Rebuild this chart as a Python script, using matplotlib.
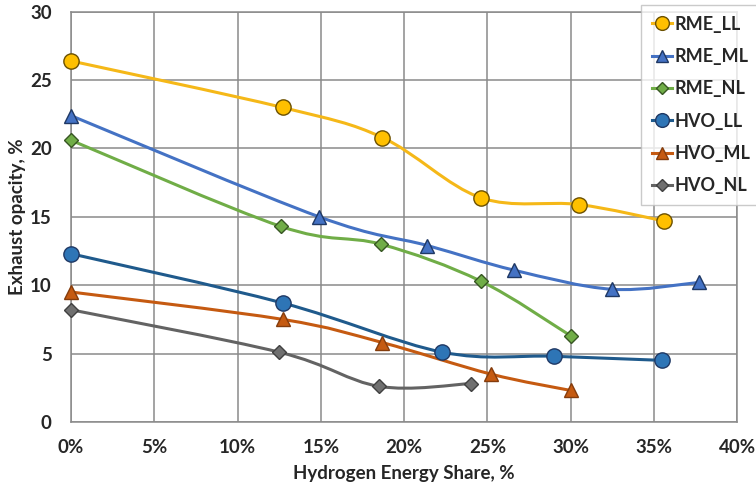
import numpy as np
import matplotlib
matplotlib.use("Agg")
import matplotlib.pyplot as plt
from matplotlib.path import Path
from matplotlib.patches import PathPatch
from matplotlib.lines import Line2D
from matplotlib.ticker import FuncFormatter

plt.rcParams['font.family'] = ['Lato', 'DejaVu Sans']
plt.rcParams['font.weight'] = 'bold'

# hydrogen energy share (%) and exhaust opacity (%) per series
rme_ll_x = [0, 12.7, 18.7, 24.6, 30.5, 35.6]
rme_ll_y = [26.4, 23.0, 20.8, 16.4, 15.9, 14.7]
rme_ml_x = [0, 14.9, 21.4, 26.6, 32.5, 37.7]
rme_ml_y = [22.4, 15.0, 12.9, 11.1, 9.7, 10.2]
rme_nl_x = [0, 12.6, 18.6, 24.6, 30.0]
rme_nl_y = [20.6, 14.3, 13.0, 10.3, 6.3]
hvo_ll_x = [0, 12.7, 22.3, 29.0, 35.5]
hvo_ll_y = [12.3, 8.7, 5.1, 4.8, 4.5]
hvo_ml_x = [0, 12.7, 18.7, 25.2, 30.0]
hvo_ml_y = [9.5, 7.5, 5.8, 3.5, 2.3]
hvo_nl_x = [0, 12.5, 18.5, 24.0]
hvo_nl_y = [8.2, 5.1, 2.6, 2.8]

labels = ['RME_LL', 'RME_ML', 'RME_NL', 'HVO_LL', 'HVO_ML', 'HVO_NL']
series = [(rme_ll_x, rme_ll_y), (rme_ml_x, rme_ml_y), (rme_nl_x, rme_nl_y),
          (hvo_ll_x, hvo_ll_y), (hvo_ml_x, hvo_ml_y), (hvo_nl_x, hvo_nl_y)]
line_colors = ['#F5B818', '#4472C4', '#70AD47', '#1F5A8C', '#C55A11', '#636363']
face_colors = ['#FFC000', '#4472C4', '#70AD47', '#2E75B6', '#C55A11', '#707070']
edge_colors = ['#6b5000', '#1f3864', '#375623', '#1f3864', '#843c0c', '#404040']
markers = ['o', '^', 'D', 'o', '^', 'D']
msizes = [11, 10, 7, 11, 10, 7]


def smooth_path(xs, ys):
    # excel-like smoothed line: cubic bezier through the points
    p = np.column_stack([xs, ys]).astype(float)
    n = len(p)
    verts = [p[0]]
    codes = [Path.MOVETO]
    for i in range(n - 1):
        p0 = p[i - 1] if i > 0 else p[i]
        p3 = p[i + 2] if i + 2 < n else p[i + 1]
        c1 = p[i] + (p[i + 1] - p0) / 6.0
        c2 = p[i + 1] - (p3 - p[i]) / 6.0
        verts += [c1, c2, p[i + 1]]
        codes += [Path.CURVE4] * 3
    return Path(verts, codes)


fig = plt.figure(figsize=(7.56, 4.90), dpi=100)
ax = fig.add_axes([0.094, 0.139, 0.881, 0.837])

handles = []
for (xs, ys), lab, lc, fc, ec, m, ms in zip(series, labels, line_colors,
                                             face_colors, edge_colors, markers, msizes):
    ax.add_patch(PathPatch(smooth_path(xs, ys), fill=False, edgecolor=lc,
                           lw=2.2, zorder=3, capstyle='round'))
    ax.plot(xs, ys, linestyle='none', marker=m, ms=ms, mfc=fc, mec=ec,
            mew=1.0, zorder=4, clip_on=False)
    handles.append(Line2D([], [], color=lc, lw=2.2, marker=m, ms=ms * 0.9,
                          mfc=fc, mec=ec, mew=1.0, label=lab))

ax.set_xlim(0, 40)
ax.set_ylim(0, 30)
ax.set_xticks(np.arange(0, 41, 5))
ax.set_yticks(np.arange(0, 31, 5))
ax.xaxis.set_major_formatter(FuncFormatter(lambda v, p: '%d%%' % v))
ax.grid(True, color='#8a8a8a', lw=1.1)
ax.set_axisbelow(True)
for s in ax.spines.values():
    s.set_color('#8a8a8a')
    s.set_linewidth(1.1)
ax.tick_params(length=0, labelsize=13.5, colors='#262626')
ax.tick_params(axis='x', pad=12)
ax.tick_params(axis='y', pad=14)

ax.set_xlabel('Hydrogen Energy Share, %', fontsize=13.5, fontweight='bold',
              color='#262626', labelpad=7)
ax.set_ylabel('Exhaust opacity, %', fontsize=13.5, fontweight='bold',
              color='#262626', labelpad=3)

leg = fig.legend(handles=handles, loc='upper left', bbox_to_anchor=(0.848, 0.99),
                 frameon=True, fancybox=False, fontsize=13, handlelength=1.1,
                 handletextpad=0.15, borderpad=0.6, labelspacing=0.85,
                 borderaxespad=0)
leg.get_frame().set_edgecolor('#bdbdbd')
leg.get_frame().set_linewidth(1.0)
for t in leg.get_texts():
    t.set_color('#262626')

fig.savefig('out.png', dpi=100)
